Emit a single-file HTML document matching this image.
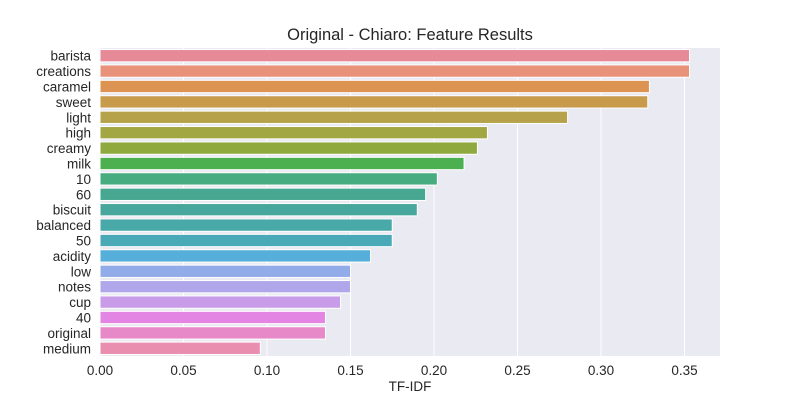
<!DOCTYPE html>
<html><head><meta charset="utf-8"><style>
body{margin:0;background:#fff;font-family:"Liberation Sans","DejaVu Sans",sans-serif;}
</style></head><body>
<svg width="800" height="400" xmlns="http://www.w3.org/2000/svg" font-family="Liberation Sans, DejaVu Sans, sans-serif">
<text x="410" y="40" text-anchor="middle" font-size="16.5" fill="#262626">Original - Chiaro: Feature Results</text>
<rect x="100" y="48" width="620" height="308" fill="#eaeaf2"/>
<g id="grid"></g><g id="bars"></g><g id="xticks"></g><g id="yticks"></g>
<text x="410" y="391" text-anchor="middle" font-size="13.5" fill="#262626">TF-IDF</text>
</svg>
<script>
const categories=["barista","creations","caramel","sweet","light","high","creamy","milk","10","60","biscuit","balanced","50","acidity","low","notes","cup","40","original","medium"];
const values=[0.353,0.353,0.329,0.328,0.280,0.232,0.226,0.218,0.202,0.195,0.190,0.175,0.175,0.162,0.150,0.150,0.144,0.135,0.135,0.096];
const colors=["#e68a98","#e8927a","#dd9453","#c89a4b","#b5a24a","#a2a744","#8fa93f","#4cb050","#47ac80","#46a890","#48a79c","#49a8a8","#4aa9b6","#56aedb","#92acea","#b0a6ea","#c89ce8","#e285e3","#e789c8","#e98eae"];
const xTicks=[0,0.05,0.10,0.15,0.20,0.25,0.30,0.35];
const NS="http://www.w3.org/2000/svg";
const x=v=>100+v*1670;
const band=308/categories.length;
const y=i=>48+i*band;
function mk(t,a,p){const e=document.createElementNS(NS,t);for(const k in a)e.setAttribute(k,a[k]);p.appendChild(e);return e;}
const g=document.getElementById('grid'),b=document.getElementById('bars'),xt=document.getElementById('xticks'),yt=document.getElementById('yticks');
xTicks.forEach(t=>{
 const l=mk('line',{x1:x(t),x2:x(t),y1:48,y2:356,stroke:'#fff','stroke-width':1},g);
 
 
 const tx=mk('text',{x:x(t),y:375,'text-anchor':'middle','font-size':13.5,fill:'#262626'},xt);
 tx.textContent=t.toFixed(2);
 
 
});
categories.forEach((c,i)=>{
 const r=mk('rect',{x:100,y:y(i)+band*0.1,width:x(values[i])-100,height:band*0.8,fill:colors[i],stroke:'#fff','stroke-width':1},b);
 
 
 const tx=mk('text',{x:91,y:y(i)+band/2+5,'text-anchor':'end','font-size':13.5,fill:'#262626'},yt);
 tx.textContent=c;
 
 
});
</script>
</body></html>
